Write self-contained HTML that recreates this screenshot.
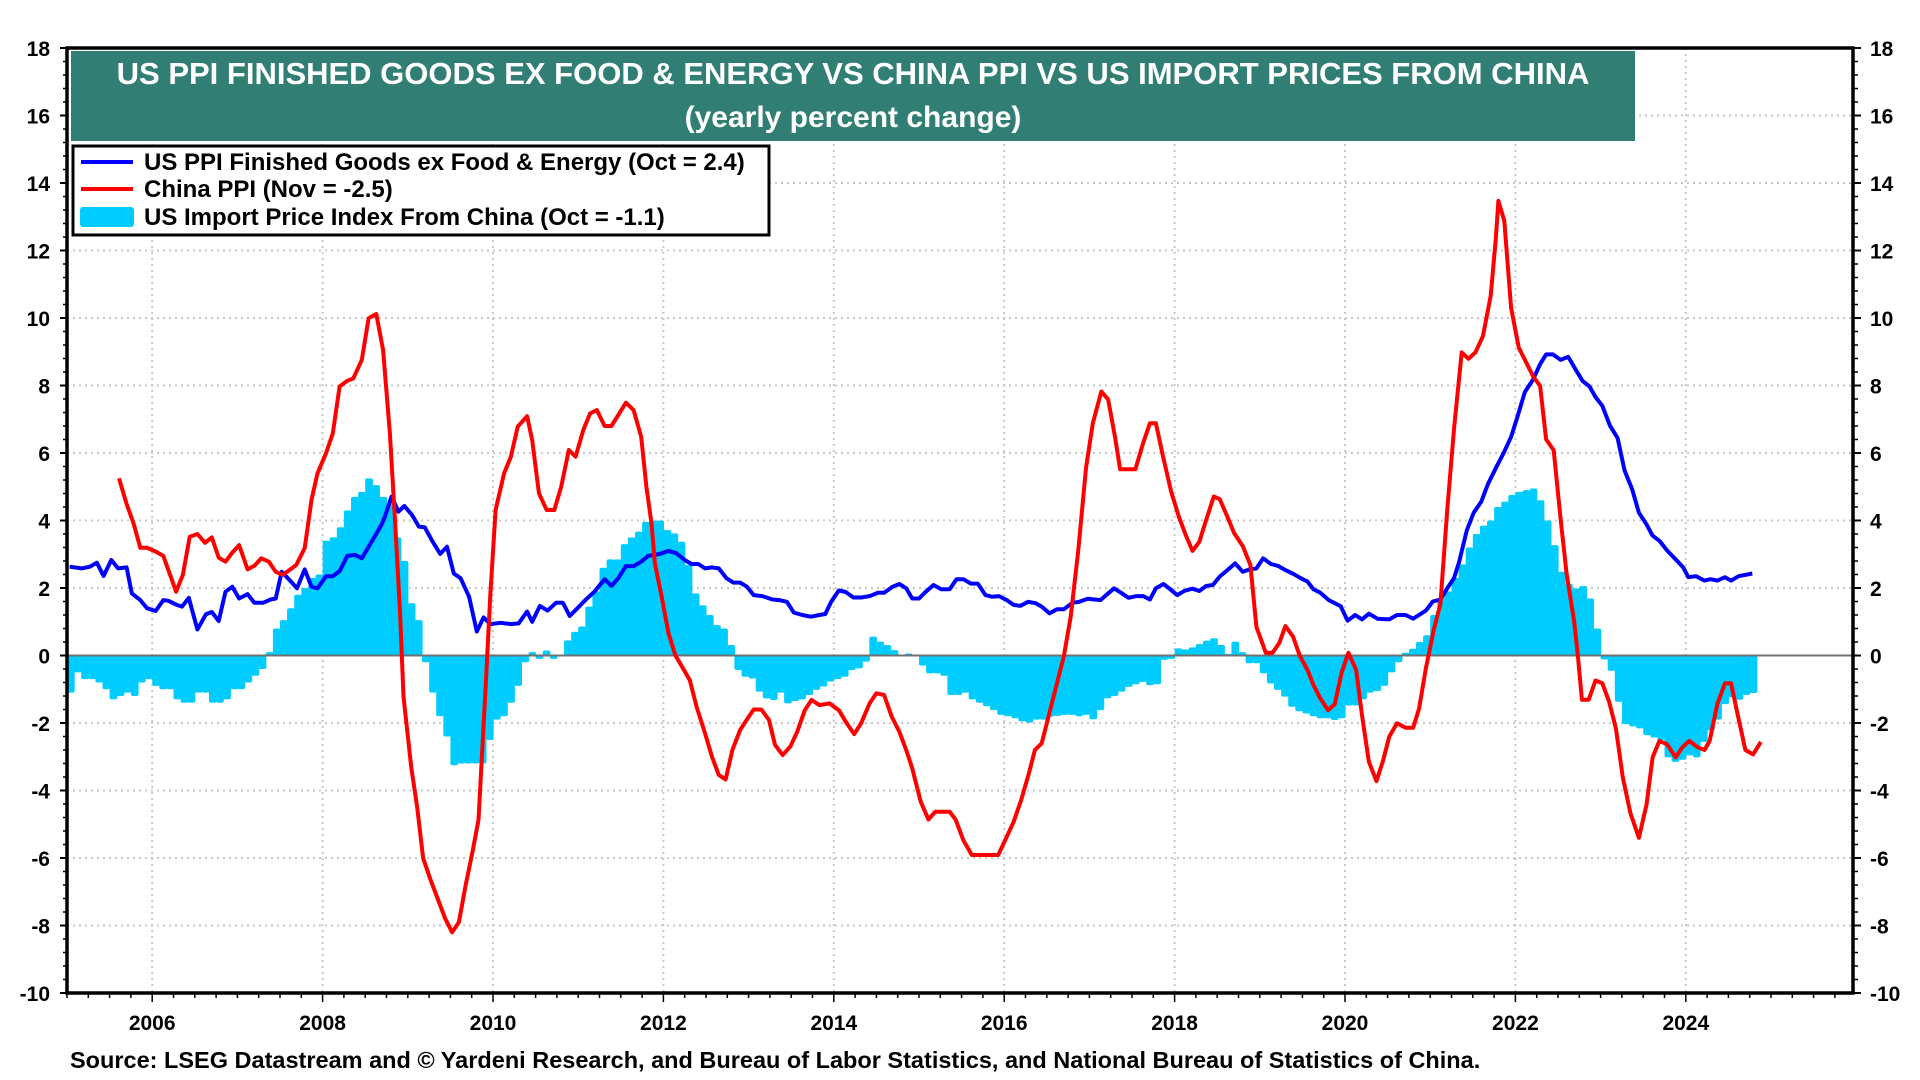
<!DOCTYPE html>
<html><head><meta charset="utf-8"><style>
html,body{margin:0;padding:0;background:#fff;}
svg{display:block;font-family:"Liberation Sans",Arial,sans-serif;}
</style></head><body>
<svg id="chart" width="1920" height="1080" viewBox="0 0 1920 1080" xmlns="http://www.w3.org/2000/svg">
<g id="grid"></g>
<g id="bars"></g>
<line id="zero" stroke="#707070" stroke-width="2"/>
<g id="lines"></g>
<g id="axes"></g>
<g>
<rect x="71" y="51" width="1564" height="90" fill="#317f74"/>
<text x="853" y="84" text-anchor="middle" fill="#fff" font-size="31" font-weight="bold">US PPI FINISHED GOODS EX FOOD &amp; ENERGY VS CHINA PPI VS US IMPORT PRICES FROM CHINA</text>
<text x="853" y="127" text-anchor="middle" fill="#fff" font-size="30" font-weight="bold">(yearly percent change)</text>
</g>
<g>
<rect x="73" y="146" width="696" height="89" fill="#fff" stroke="#000" stroke-width="3"/>
<line x1="81" y1="162" x2="133" y2="162" stroke="#0000ff" stroke-width="4"/>
<text x="144" y="170" font-size="24" font-weight="bold">US PPI Finished Goods ex Food &amp; Energy (Oct = 2.4)</text>
<line x1="81" y1="189" x2="133" y2="189" stroke="#ff0000" stroke-width="4"/>
<text x="144" y="197" font-size="24" font-weight="bold">China PPI (Nov = -2.5)</text>
<rect x="80" y="207" width="54" height="20" rx="3" fill="#00ccff"/>
<text x="144" y="225" font-size="24" font-weight="bold">US Import Price Index From China (Oct = -1.1)</text>
</g>
<text x="70" y="1068" font-size="23.5" font-weight="bold">Source: LSEG Datastream and © Yardeni Research, and Bureau of Labor Statistics, and National Bureau of Statistics of China.</text>
</svg>
<script>
const blueDates=[2005.03,2005.17,2005.27,2005.35,2005.43,2005.52,2005.60,2005.70,2005.76,2005.86,2005.94,2006.04,2006.13,2006.19,2006.29,2006.35,2006.43,2006.53,2006.63,2006.70,2006.78,2006.86,2006.94,2007.02,2007.12,2007.20,2007.30,2007.39,2007.45,2007.52,2007.61,2007.70,2007.79,2007.87,2007.94,2008.04,2008.12,2008.20,2008.29,2008.38,2008.46,2008.54,2008.61,2008.69,2008.73,2008.81,2008.89,2008.96,2009.05,2009.13,2009.20,2009.28,2009.38,2009.46,2009.54,2009.62,2009.72,2009.81,2009.89,2009.97,2010.09,2010.21,2010.30,2010.40,2010.46,2010.55,2010.64,2010.74,2010.82,2010.90,2010.99,2011.09,2011.19,2011.31,2011.39,2011.47,2011.56,2011.65,2011.74,2011.82,2011.96,2012.06,2012.15,2012.25,2012.33,2012.41,2012.49,2012.57,2012.65,2012.74,2012.82,2012.90,2012.98,2013.06,2013.16,2013.28,2013.36,2013.45,2013.53,2013.63,2013.73,2013.83,2013.90,2013.97,2014.06,2014.14,2014.23,2014.32,2014.42,2014.52,2014.59,2014.69,2014.77,2014.85,2014.92,2015.00,2015.08,2015.17,2015.26,2015.36,2015.44,2015.52,2015.61,2015.69,2015.78,2015.86,2015.94,2016.03,2016.11,2016.19,2016.28,2016.37,2016.44,2016.53,2016.62,2016.70,2016.80,2016.88,2016.98,2017.06,2017.13,2017.21,2017.29,2017.37,2017.46,2017.55,2017.63,2017.71,2017.78,2017.87,2017.95,2018.03,2018.12,2018.21,2018.29,2018.37,2018.45,2018.53,2018.62,2018.71,2018.80,2018.88,2018.96,2019.04,2019.13,2019.22,2019.30,2019.40,2019.48,2019.56,2019.63,2019.71,2019.81,2019.95,2020.03,2020.12,2020.20,2020.28,2020.38,2020.52,2020.61,2020.71,2020.80,2020.95,2021.03,2021.12,2021.19,2021.28,2021.34,2021.43,2021.51,2021.60,2021.68,2021.77,2021.87,2021.95,2022.02,2022.11,2022.21,2022.29,2022.36,2022.44,2022.53,2022.62,2022.71,2022.79,2022.87,2022.94,2023.02,2023.11,2023.20,2023.28,2023.37,2023.45,2023.54,2023.61,2023.69,2023.78,2023.88,2023.97,2024.03,2024.12,2024.22,2024.29,2024.37,2024.46,2024.53,2024.62,2024.78];
const blueValues=[2.63,2.58,2.63,2.75,2.36,2.83,2.58,2.61,1.84,1.64,1.40,1.32,1.64,1.62,1.50,1.45,1.71,0.77,1.22,1.29,1.02,1.89,2.04,1.69,1.82,1.56,1.56,1.66,1.69,2.48,2.24,1.99,2.55,2.04,1.99,2.35,2.35,2.50,2.95,2.98,2.88,3.22,3.52,3.87,4.11,4.71,4.26,4.43,4.16,3.82,3.80,3.42,3.01,3.22,2.43,2.29,1.74,0.71,1.13,0.93,0.97,0.93,0.95,1.30,1.00,1.47,1.33,1.56,1.56,1.17,1.40,1.66,1.89,2.26,2.06,2.29,2.65,2.65,2.78,2.95,3.01,3.10,3.03,2.83,2.71,2.71,2.58,2.61,2.58,2.29,2.16,2.16,2.04,1.79,1.76,1.66,1.64,1.59,1.27,1.20,1.15,1.20,1.23,1.59,1.93,1.88,1.72,1.72,1.76,1.86,1.86,2.04,2.12,1.99,1.69,1.69,1.89,2.09,1.96,1.96,2.26,2.26,2.13,2.13,1.79,1.74,1.76,1.64,1.50,1.47,1.59,1.55,1.45,1.25,1.37,1.37,1.56,1.59,1.68,1.66,1.64,1.82,1.99,1.86,1.71,1.76,1.76,1.66,1.99,2.12,1.96,1.79,1.92,1.98,1.91,2.06,2.09,2.34,2.53,2.73,2.48,2.55,2.58,2.88,2.71,2.65,2.53,2.41,2.29,2.19,1.96,1.86,1.64,1.46,1.03,1.20,1.07,1.24,1.09,1.07,1.20,1.20,1.09,1.33,1.60,1.66,1.95,2.30,2.78,3.71,4.23,4.56,5.09,5.55,6.04,6.48,7.04,7.80,8.19,8.63,8.92,8.92,8.76,8.85,8.46,8.13,7.97,7.66,7.40,6.81,6.44,5.49,4.93,4.23,3.88,3.55,3.40,3.11,2.85,2.61,2.32,2.35,2.22,2.26,2.22,2.32,2.22,2.35,2.43];
const redDates=[2005.61,2005.70,2005.78,2005.86,2005.94,2006.04,2006.13,2006.21,2006.28,2006.36,2006.44,2006.53,2006.62,2006.70,2006.78,2006.86,2006.94,2007.02,2007.12,2007.20,2007.28,2007.37,2007.45,2007.53,2007.61,2007.69,2007.79,2007.87,2007.94,2008.04,2008.12,2008.20,2008.29,2008.36,2008.46,2008.54,2008.63,2008.71,2008.79,2008.85,2008.91,2008.95,2009.04,2009.11,2009.18,2009.26,2009.35,2009.44,2009.52,2009.60,2009.68,2009.76,2009.83,2009.91,2009.97,2010.03,2010.13,2010.21,2010.29,2010.40,2010.46,2010.54,2010.63,2010.72,2010.80,2010.89,2010.97,2011.06,2011.14,2011.22,2011.31,2011.39,2011.47,2011.56,2011.65,2011.74,2011.80,2011.86,2011.90,2011.98,2012.06,2012.14,2012.23,2012.31,2012.39,2012.49,2012.57,2012.65,2012.73,2012.81,2012.90,2012.99,2013.06,2013.15,2013.24,2013.31,2013.40,2013.49,2013.57,2013.66,2013.74,2013.83,2013.95,2014.06,2014.14,2014.24,2014.32,2014.42,2014.50,2014.59,2014.68,2014.77,2014.85,2014.92,2015.02,2015.11,2015.19,2015.28,2015.36,2015.43,2015.52,2015.62,2015.93,2016.03,2016.11,2016.20,2016.29,2016.36,2016.44,2016.52,2016.60,2016.70,2016.78,2016.87,2016.96,2017.04,2017.14,2017.22,2017.30,2017.36,2017.54,2017.63,2017.71,2017.78,2017.86,2017.96,2018.05,2018.13,2018.21,2018.29,2018.37,2018.46,2018.53,2018.62,2018.70,2018.80,2018.89,2018.96,2019.07,2019.15,2019.23,2019.30,2019.39,2019.47,2019.56,2019.63,2019.71,2019.80,2019.88,2019.96,2020.04,2020.13,2020.20,2020.28,2020.37,2020.45,2020.52,2020.61,2020.71,2020.80,2020.87,2020.95,2021.04,2021.12,2021.20,2021.28,2021.37,2021.45,2021.53,2021.62,2021.71,2021.77,2021.80,2021.87,2021.95,2022.04,2022.12,2022.21,2022.29,2022.36,2022.45,2022.53,2022.60,2022.69,2022.73,2022.78,2022.86,2022.94,2023.02,2023.10,2023.18,2023.26,2023.35,2023.45,2023.54,2023.61,2023.69,2023.78,2023.88,2023.96,2024.04,2024.14,2024.22,2024.28,2024.37,2024.46,2024.53,2024.61,2024.70,2024.79,2024.88];
const redValues=[5.25,4.49,3.92,3.19,3.19,3.08,2.95,2.39,1.89,2.39,3.52,3.60,3.34,3.50,2.90,2.78,3.05,3.27,2.55,2.66,2.88,2.78,2.48,2.39,2.53,2.68,3.18,4.61,5.40,5.99,6.58,7.97,8.14,8.21,8.76,9.99,10.12,9.05,6.58,4.01,1.25,-1.22,-3.3,-4.5,-6.0,-6.6,-7.2,-7.8,-8.2,-7.9,-6.8,-5.8,-4.87,-1.12,1.84,4.31,5.40,5.89,6.78,7.09,6.38,4.80,4.31,4.31,5.00,6.09,5.89,6.68,7.17,7.27,6.80,6.80,7.12,7.49,7.27,6.48,5.00,3.91,2.73,1.74,0.66,0.01,-0.38,-0.73,-1.52,-2.31,-3.00,-3.54,-3.67,-2.80,-2.21,-1.86,-1.60,-1.60,-1.91,-2.65,-2.95,-2.70,-2.26,-1.62,-1.32,-1.47,-1.42,-1.62,-1.96,-2.33,-2.01,-1.42,-1.12,-1.17,-1.81,-2.26,-2.80,-3.34,-4.33,-4.86,-4.63,-4.63,-4.63,-4.86,-5.47,-5.91,-5.91,-5.37,-4.93,-4.28,-3.49,-2.80,-2.60,-1.81,-1.02,-0.03,1.15,3.12,5.55,6.88,7.82,7.59,6.48,5.52,5.52,6.29,6.88,6.88,5.94,4.85,4.11,3.57,3.10,3.37,4.01,4.71,4.63,4.11,3.62,3.24,2.68,0.85,0.08,0.08,0.38,0.87,0.56,-0.01,-0.43,-0.88,-1.27,-1.62,-1.44,-0.51,0.08,-0.42,-1.77,-3.15,-3.72,-3.09,-2.40,-2.01,-2.14,-2.14,-1.57,-0.38,0.74,1.53,4.30,6.74,8.98,8.79,8.98,9.47,10.66,12.35,13.47,12.88,10.30,9.12,8.72,8.26,7.99,6.41,6.08,4.04,2.45,1.00,0.08,-1.31,-1.31,-0.74,-0.82,-1.37,-2.16,-3.61,-4.67,-5.40,-4.41,-3.02,-2.53,-2.63,-3.02,-2.72,-2.53,-2.72,-2.80,-2.53,-1.44,-0.82,-0.82,-1.77,-2.80,-2.93,-2.56];
const importStart=2005.0;
const importValues=[-1.1,-0.5,-0.7,-0.7,-0.8,-1.0,-1.3,-1.2,-1.1,-1.2,-0.8,-0.7,
-0.9,-1.0,-1.0,-1.3,-1.4,-1.4,-1.1,-1.1,-1.4,-1.4,-1.3,-1.0,
-1.0,-0.8,-0.6,-0.4,0.1,0.8,1.05,1.4,1.8,2.0,2.3,2.4,
3.4,3.5,3.8,4.3,4.7,4.85,5.25,5.05,4.7,4.55,3.5,2.8,
1.55,1.05,-0.2,-1.1,-1.8,-2.4,-3.25,-3.2,-3.2,-3.2,-3.2,-2.5,
-1.9,-1.8,-1.4,-0.9,-0.2,0.1,-0.1,0.15,-0.1,0.02,0.45,0.7,
0.86,1.45,1.9,2.6,2.85,2.85,3.3,3.5,3.67,3.96,4.0,4.0,
3.72,3.62,3.37,2.68,1.84,1.49,1.2,0.9,0.8,0.31,-0.43,-0.63,
-0.68,-1.07,-1.27,-1.32,-1.1,-1.42,-1.35,-1.3,-1.17,-1.02,-0.92,-0.77,
-0.7,-0.63,-0.43,-0.38,-0.18,0.56,0.41,0.31,0.16,0.02,0.06,-0.03,
-0.3,-0.53,-0.53,-0.6,-1.17,-1.17,-1.1,-1.3,-1.4,-1.5,-1.62,-1.76,
-1.8,-1.86,-1.95,-1.99,-1.9,-1.9,-1.81,-1.79,-1.76,-1.76,-1.8,-1.76,
-1.89,-1.62,-1.27,-1.2,-1.07,-0.93,-0.85,-0.78,-0.88,-0.85,-0.13,-0.1,
0.21,0.18,0.24,0.34,0.44,0.51,0.31,0.05,0.41,0.1,-0.23,-0.23,
-0.53,-0.83,-1.02,-1.22,-1.52,-1.65,-1.72,-1.8,-1.86,-1.86,-1.91,-1.86,
-1.48,-1.48,-1.3,-1.1,-1.05,-0.9,-0.5,-0.2,0.08,0.2,0.4,0.6,
1.2,1.7,1.9,2.3,2.7,3.2,3.6,3.85,4.0,4.4,4.56,4.76,
4.85,4.9,4.95,4.6,4.0,3.27,2.48,2.12,1.99,2.06,1.69,0.8,
-0.12,-0.45,-1.37,-2.03,-2.1,-2.16,-2.36,-2.43,-2.5,-3.02,-3.15,-3.09,
-2.96,-3.02,-2.56,-2.22,-1.9,-1.44,-1.24,-1.31,-1.17,-1.11];
const yTicks=[18,16,14,12,10,8,6,4,2,0,-2,-4,-6,-8,-10];
const xTickYears=[2006,2008,2010,2012,2014,2016,2018,2020,2022,2024];

const NS='http://www.w3.org/2000/svg';
const L=67,R=1853,T=48,B=993,X0=2005,X1=2005+(R-L)/85.2,Y0=-10,Y1=18;
function x(t){return L+(t-X0)/(X1-X0)*(R-L);}
function y(v){return B-(v-Y0)/(Y1-Y0)*(B-T);}
function mk(tag,attrs,parent){const e=document.createElementNS(NS,tag);for(const k in attrs)e.setAttribute(k,attrs[k]);parent.appendChild(e);return e;}
const grid=document.getElementById('grid'),axes=document.getElementById('axes'),bars=document.getElementById('bars'),lines=document.getElementById('lines');
yTicks.forEach(v=>{
  if(v!==Y0&&v!==Y1&&v!==0){const g=mk('line',{x1:L,x2:R,y1:y(v),y2:y(v),stroke:'#c8c8c8','stroke-width':2,'stroke-dasharray':'2,4'},grid);
  
  }
  const a=mk('text',{x:50,y:y(v)+8,'text-anchor':'end','font-size':21,'font-weight':'bold'},axes);a.textContent=v;
  
  
  const b=mk('text',{x:1870,y:y(v)+8,'font-size':21,'font-weight':'bold'},axes);b.textContent=v;
  
  
  mk('line',{x1:L-7,x2:L,y1:y(v),y2:y(v),stroke:'#000','stroke-width':2},axes);
  mk('line',{x1:R,x2:R+8,y1:y(v),y2:y(v),stroke:'#000','stroke-width':2},axes);
});
for(let v=Y0;v<Y1;v+=0.4){mk('line',{x1:L-4,x2:L,y1:y(v),y2:y(v),stroke:'#000','stroke-width':1.5},axes);mk('line',{x1:R,x2:R+5,y1:y(v),y2:y(v),stroke:'#000','stroke-width':1.5},axes);}
xTickYears.forEach(t=>{
  const g=mk('line',{x1:x(t),x2:x(t),y1:T,y2:B,stroke:'#c8c8c8','stroke-width':2,'stroke-dasharray':'2,4'},grid);
  
  
  const a=mk('text',{x:x(t),y:1030,'text-anchor':'middle','font-size':21,'font-weight':'bold'},axes);a.textContent=t;
  
  
});
for(let t=X0;t<X1;t+=0.25){const maj=Math.abs(t-Math.round(t))<1e-6&&Math.round(t)%2===0;mk('line',{x1:x(t),x2:x(t),y1:B,y2:B+(maj?9:5),stroke:'#000','stroke-width':1.5},axes);}
mk('rect',{x:L,y:T,width:R-L,height:B-T,fill:'none',stroke:'#000','stroke-width':3.5},axes);
const z=document.getElementById('zero');z.setAttribute('x1',L);z.setAttribute('x2',R);z.setAttribute('y1',y(0));z.setAttribute('y2',y(0));
importValues.forEach((v,i)=>{
  const t0=importStart+i/12,t1=importStart+(i+1)/12;
  const top=Math.min(y(v),y(0)),h=Math.abs(y(v)-y(0));
  const r=mk('rect',{x:x(t0),y:top,width:x(t1)-x(t0)+0.6,height:Math.max(h,1),fill:'#00ccff',rx:2},bars);
  
  
});
function path(ds,vs,color,name){
  const d=ds.map((t,i)=>(i?'L':'M')+x(t).toFixed(1)+','+y(vs[i]).toFixed(1)).join('');
  const p=mk('path',{d:d,fill:'none',stroke:color,'stroke-width':4,'stroke-linejoin':'round'},lines);
  
  
}
path(blueDates,blueValues,'#0000ff','us-ppi-line');
path(redDates,redValues,'#ff0000','china-ppi-line');
</script>
</body></html>
